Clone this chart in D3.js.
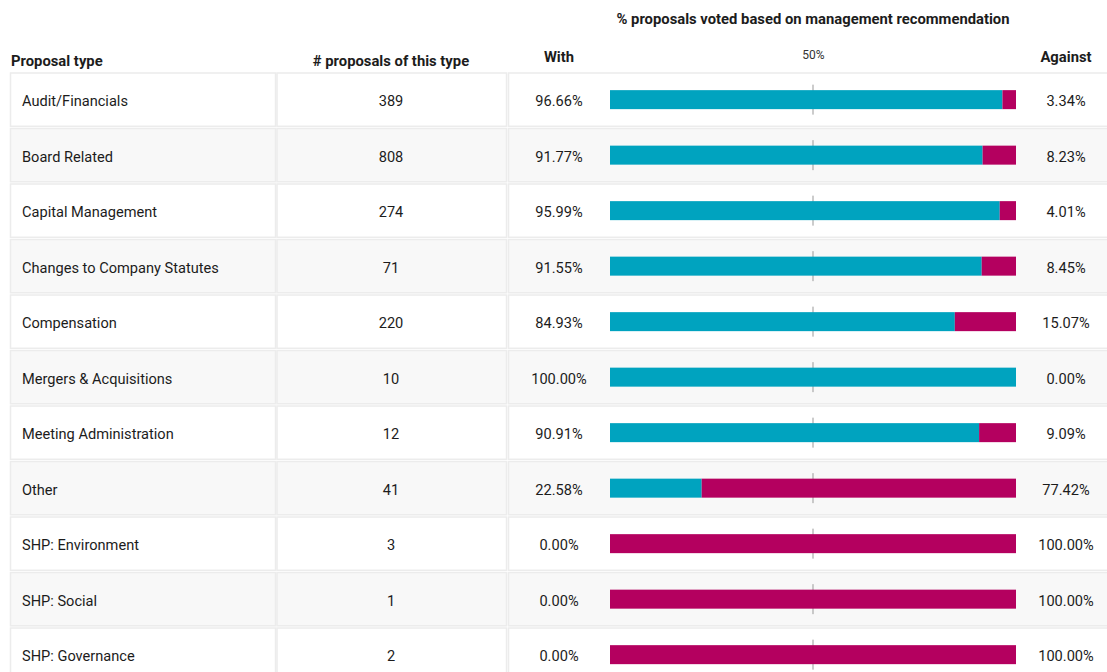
<!DOCTYPE html>
<html lang="en">
<head>
  <meta charset="UTF-8">
  <title>Proposals voted based on management recommendation</title>
  <script src="https://d3js.org/d3.v7.min.js"></script>
  <style>
    body { margin: 0; background: #fff; }
    svg { font-family: Roboto, "Noto Sans", sans-serif; }
  </style>
</head>
<body>
  <div id="chart"></div>

  <script>
    // Data
    const categories = [
      "Audit/Financials", "Board Related", "Capital Management",
      "Changes to Company Statutes", "Compensation", "Mergers & Acquisitions",
      "Meeting Administration", "Other", "SHP: Environment", "SHP: Social",
      "SHP: Governance"
    ];
    const counts = [389, 808, 274, 71, 220, 10, 12, 41, 3, 1, 2];
    const withPct = [96.66, 91.77, 95.99, 91.55, 84.93, 100.00, 90.91, 22.58, 0.00, 0.00, 0.00];
    const againstPct = [3.34, 8.23, 4.01, 8.45, 15.07, 0.00, 9.09, 77.42, 100.00, 100.00, 100.00];
    const axisTicks = [50];

    const rows = categories.map((c, i) => ({
      cat: c, count: counts[i], w: withPct[i], a: againstPct[i], i: i
    }));

    const width = 1107, height = 672;
    const teal = "#00a3bf", magenta = "#b4005f";

    const svg = d3.select("#chart")
      .append("svg")
      .attr("width", width)
      .attr("height", height);

    // row positions
    const y = d3.scaleBand()
      .domain(categories)
      .range([73, 73 + 55.3 * 11])
      .paddingInner(0.04)
      .paddingOuter(0);

    // bar scale
    const x = d3.scaleLinear()
      .domain([0, 100])
      .range([610, 1016]);

    // column cells
    const cols = [
      { x0: 10.5, x1: 275.5 },
      { x0: 277, x1: 506.5 },
      { x0: 508.5, x1: 1115 }
    ];

    const row = svg.selectAll("g.row")
      .data(rows)
      .enter().append("g")
        .attr("class", "row")
        .attr("transform", d => "translate(0," + y(d.cat) + ")");

    cols.forEach(c => {
      row.append("rect")
        .attr("x", c.x0)
        .attr("y", 0)
        .attr("width", c.x1 - c.x0)
        .attr("height", y.bandwidth())
        .attr("fill", d => d.i % 2 ? "#f8f8f8" : "#ffffff")
        .attr("stroke", "#ececec")
        .attr("stroke-width", 1.5);
    });

    const mid = y.bandwidth() / 2;
    const barH = 19;

    // 50% reference tick
    row.append("line")
      .attr("x1", x(50)).attr("x2", x(50))
      .attr("y1", mid - 15).attr("y2", mid + 15)
      .attr("stroke", "#999")
      .attr("stroke-width", 1);

    // stacked bars
    row.append("rect")
      .attr("x", x(0))
      .attr("y", mid - barH / 2)
      .attr("width", d => x(d.w) - x(0))
      .attr("height", barH)
      .attr("fill", teal);

    row.append("rect")
      .attr("x", d => x(d.w))
      .attr("y", mid - barH / 2)
      .attr("width", d => x(100) - x(d.w))
      .attr("height", barH)
      .attr("fill", magenta);

    // texts
    const txt = (sel, xp, anchor, f) => sel.append("text")
      .attr("x", xp)
      .attr("y", mid + 1.5)
      .attr("dy", "0.35em")
      .attr("text-anchor", anchor)
      .attr("font-size", 14.6)
      .attr("fill", "#1c1c1c")
      .text(f);

    txt(row, 22, "start", d => d.cat);
    txt(row, 391, "middle", d => d.count);
    txt(row, 559, "middle", d => d.w.toFixed(2) + "%");
    txt(row, 1066, "middle", d => d.a.toFixed(2) + "%");

    // 50% axis label
    const axis = svg.append("g")
      .attr("transform", "translate(0,62)")
      .call(d3.axisTop(x).tickValues(axisTicks).tickSize(0).tickFormat(d => d + "%"));
    axis.select(".domain").remove();
    axis.selectAll("text")
      .attr("font-family", "Roboto, sans-serif")
      .attr("font-size", 12)
      .attr("fill", "#333");

    // headers
    const header = (xp, yp, anchor, t) => svg.append("text")
      .attr("x", xp)
      .attr("y", yp)
      .attr("text-anchor", anchor)
      .attr("font-size", 14.8)
      .attr("font-weight", "bold")
      .attr("fill", "#1c1c1c")
      .text(t);

    header(813, 24, "middle", "% proposals voted based on management recommendation");
    header(11, 66, "start", "Proposal type");
    header(391, 66, "middle", "# proposals of this type");
    header(559, 62, "middle", "With");
    header(1066, 62, "middle", "Against");
  </script>
</body>
</html>
